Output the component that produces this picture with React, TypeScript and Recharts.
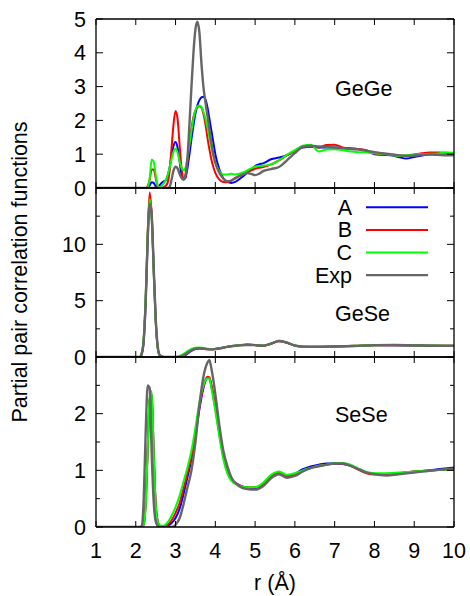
import React from 'react';
import { LineChart, Line, XAxis, YAxis } from 'recharts';

// ---------------- data ----------------
const seriesNames = ['A', 'B', 'C', 'Exp'];
const seriesColors = ['#0000ff', '#ff0000', '#00ff00', '#666666'];
const xTicks = [1, 2, 3, 4, 5, 6, 7, 8, 9, 10];

// GeGe panel
const geGeR = [1.0, 2.0, 2.25,
  2.3, 2.35, 2.4, 2.45, 2.5, 2.55, 2.6, 2.65, 2.7, 2.75,
  2.8, 2.85, 2.9, 2.95, 3.0, 3.05, 3.1, 3.15, 3.2, 3.25,
  3.3, 3.35, 3.4, 3.45, 3.5, 3.55, 3.6, 3.65, 3.7, 3.75,
  3.8, 3.85, 3.9, 3.95, 4.0,
  4.1, 4.2, 4.3, 4.4, 4.5, 4.6, 4.7, 4.8, 4.9, 5.0,
  5.1, 5.2,
  5.4, 5.6, 5.8, 6.0, 6.2, 6.4, 6.6, 6.8, 7.0, 7.2,
  7.4, 7.6, 7.8, 8.0, 8.2, 8.4, 8.6, 8.8, 9.0, 9.2,
  9.4, 9.6, 9.8, 10.0];
const geGeA = [0, 0, 0,
  0.01, 0.08, 0.17, 0.15, 0.05, 0.02, 0.08, 0.15, 0.2, 0.22,
  0.35, 0.6, 0.95, 1.25, 1.36, 1.2, 0.8, 0.4, 0.25, 0.3,
  0.6, 1.0, 1.45, 1.85, 2.2, 2.45, 2.6, 2.68, 2.7, 2.62,
  2.4, 2.05, 1.7, 1.35, 1.0,
  0.55, 0.28, 0.18, 0.15, 0.18, 0.26, 0.35, 0.45, 0.55, 0.65,
  0.7, 0.73,
  0.85, 0.9, 0.97, 1.1, 1.2, 1.22, 1.2, 1.2, 1.2, 1.18,
  1.17, 1.15, 1.1, 1.0, 0.98, 0.97, 0.92, 0.87, 0.92, 0.96,
  1.0, 1.02, 1.02, 1.0];
const geGeB = [0, 0, 0,
  0.05, 0.25, 0.55, 0.55, 0.3, 0.05, 0, 0, 0.02, 0.06,
  0.15, 0.5, 1.2, 1.9, 2.28, 2.05, 1.3, 0.6, 0.27, 0.35,
  0.8, 1.3, 1.75, 2.1, 2.3, 2.4, 2.42, 2.38, 2.2, 1.9,
  1.5, 1.15, 0.85, 0.62, 0.45,
  0.25, 0.18, 0.17, 0.22, 0.3, 0.35, 0.4, 0.46, 0.52, 0.57,
  0.6, 0.62,
  0.7, 0.82, 0.97, 1.1, 1.22, 1.22, 1.2, 1.27, 1.28, 1.2,
  1.17, 1.15, 1.12, 1.02, 1.0, 0.98, 0.95, 0.96, 0.99, 1.03,
  1.05, 1.05, 1.04, 1.02];
const geGeC = [0, 0, 0,
  0.02, 0.3, 0.84, 0.78, 0.4, 0.08, 0.03, 0.06, 0.14, 0.22,
  0.38, 0.6, 0.85, 1.08, 1.16, 1.05, 0.8, 0.6, 0.52, 0.6,
  0.9, 1.3, 1.7, 2.05, 2.3, 2.42, 2.44, 2.4, 2.25, 2.05,
  1.8, 1.5, 1.2, 0.95, 0.75,
  0.5, 0.4, 0.4, 0.42, 0.4, 0.42, 0.46, 0.52, 0.58, 0.63,
  0.65, 0.66,
  0.7, 0.82, 0.98, 1.12, 1.25, 1.28, 1.08, 1.14, 1.15, 1.12,
  1.08, 1.06, 1.05, 1.03, 1.01, 0.98, 0.95, 0.97, 0.99, 1.0,
  1.01, 1.02, 1.05, 1.04];
const geGeExp = [0, 0, 0,
  0, 0, 0, 0, 0, 0, 0, 0, 0, 0,
  0, 0.03, 0.25, 0.52, 0.63, 0.58, 0.42, 0.3, 0.25, 0.4,
  0.9, 1.9, 3.0, 4.0, 4.7, 4.92, 4.6, 3.7, 3.0, 2.55,
  2.15, 1.75, 1.35, 1.0, 0.75,
  0.45, 0.28, 0.2, 0.22, 0.28, 0.35, 0.4, 0.44, 0.42, 0.38,
  0.42, 0.5,
  0.56, 0.62, 0.82, 1.03, 1.22, 1.25, 1.23, 1.22, 1.2, 1.18,
  1.15, 1.14, 1.1, 1.06, 1.03, 1.0, 0.97, 0.95, 0.96, 0.98,
  0.99, 0.98, 0.97, 0.97];

// GeSe panel
const geSeR = [1.0, 2.0, 2.1,
  2.15, 2.2, 2.25, 2.3, 2.35, 2.4, 2.45, 2.5, 2.55, 2.6,
  2.7, 2.9,
  3.0, 3.1, 3.2, 3.3, 3.4, 3.5, 3.6, 3.7, 3.8, 3.9, 4.0,
  4.2, 4.4, 4.6, 4.8, 5.0, 5.2, 5.4, 5.6, 5.8, 6.0, 6.2,
  6.5,
  7.0, 7.5, 8.0, 8.5, 9.0, 9.5, 10.0];
const geSeA = [0, 0, 0,
  0.25, 1.4, 4.9, 10.4, 13.9, 12.7, 8.0, 3.4, 0.9, 0.15,
  0, 0,
  0, 0.01, 0.08, 0.3, 0.55, 0.7, 0.76, 0.74, 0.7, 0.69, 0.72,
  0.84, 0.97, 1.05, 1.1, 1.07, 1.0, 1.18, 1.42, 1.26, 1.0, 0.92,
  0.9,
  0.94, 0.98, 1.04, 1.05, 1.03, 0.99, 0.98];
const geSeB = [0, 0, 0,
  0.3, 1.6, 5.3, 11.0, 14.6, 12.6, 7.8, 3.3, 0.9, 0.15,
  0, 0,
  0, 0.03, 0.15, 0.38, 0.6, 0.73, 0.77, 0.74, 0.69, 0.68, 0.71,
  0.83, 0.96, 1.04, 1.08, 1.05, 1.0, 1.17, 1.4, 1.27, 1.01, 0.92,
  0.9,
  0.94, 0.99, 1.05, 1.05, 1.03, 1.0, 0.99];
const geSeC = [0, 0, 0,
  0.4, 1.8, 5.5, 11.0, 14.0, 12.3, 7.6, 3.2, 0.8, 0.12,
  0, 0,
  0.02, 0.08, 0.28, 0.52, 0.72, 0.82, 0.85, 0.8, 0.74, 0.71, 0.73,
  0.85, 0.97, 1.04, 1.08, 1.06, 1.01, 1.2, 1.44, 1.28, 1.02, 0.92,
  0.91,
  0.94, 0.99, 1.05, 1.06, 1.04, 1.01, 1.0];
const geSeExp = [0, 0, 0,
  0.3, 1.5, 5.0, 10.5, 13.6, 12.5, 8.0, 3.5, 1.0, 0.2,
  0, 0,
  0, 0.02, 0.15, 0.38, 0.6, 0.74, 0.78, 0.75, 0.7, 0.68, 0.7,
  0.82, 0.95, 1.03, 1.07, 1.05, 1.0, 1.18, 1.42, 1.28, 1.02, 0.92,
  0.9,
  0.93, 0.98, 1.05, 1.06, 1.03, 1.0, 1.0];

// SeSe panel
const seSeR = [1.0, 2.0, 2.1,
  2.15, 2.2, 2.25, 2.3, 2.35, 2.4, 2.45, 2.5, 2.55, 2.6,
  2.7, 2.8, 2.9,
  3.0, 3.1, 3.2, 3.3, 3.4, 3.5, 3.6, 3.7, 3.8,
  3.85,
  3.9, 4.0, 4.1, 4.2, 4.3, 4.4,
  4.6, 4.8, 5.0, 5.2, 5.4, 5.6, 5.8, 6.0, 6.2, 6.4,
  6.6, 6.8, 7.0, 7.2, 7.4, 7.6, 7.8, 8.0,
  8.3, 8.6, 9.0, 9.5, 10.0];
const seSeA = [0, 0, 0,
  0, 0.05, 0.45, 1.4, 2.25, 2.35, 1.3, 0.4, 0.1, 0.02,
  0, 0.02, 0.07,
  0.16, 0.32, 0.58, 0.88, 1.2, 1.6, 2.08, 2.45, 2.63,
  2.63,
  2.5, 2.12, 1.68, 1.28, 1.0, 0.85,
  0.74, 0.69, 0.68, 0.74, 0.9, 0.95, 0.9, 0.94, 1.02, 1.07,
  1.1, 1.12, 1.12, 1.11, 1.08, 1.02, 0.96, 0.94,
  0.93, 0.95, 0.98, 1.01, 1.05];
const seSeB = [0, 0, 0,
  0, 0.05, 0.45, 1.4, 2.25, 2.35, 1.3, 0.4, 0.1, 0.02,
  0.01, 0.04, 0.12,
  0.25, 0.42, 0.68, 0.95, 1.25, 1.65, 2.12, 2.48, 2.65,
  2.64,
  2.5, 2.1, 1.65, 1.25, 0.98, 0.84,
  0.74, 0.7, 0.7, 0.76, 0.9, 0.96, 0.9, 0.93, 0.99, 1.04,
  1.08, 1.1, 1.12, 1.12, 1.08, 1.01, 0.95, 0.93,
  0.93, 0.95, 0.98, 1.0, 1.02];
const seSeC = [0, 0, 0,
  0, 0.05, 0.4, 1.4, 2.3, 2.4, 1.3, 0.4, 0.1, 0.03,
  0.02, 0.08, 0.2,
  0.35, 0.55, 0.8, 1.05, 1.35, 1.75, 2.2, 2.5, 2.62,
  2.62,
  2.45, 2.05, 1.6, 1.2, 0.95, 0.82,
  0.73, 0.7, 0.7, 0.78, 0.92, 0.98, 0.92, 0.95, 1.0, 1.04,
  1.08, 1.1, 1.13, 1.13, 1.1, 1.03, 0.97, 0.95,
  0.95, 0.96, 0.98, 1.0, 1.02];
const seSeExp = [0, 0, 0,
  0.02, 0.5, 1.7, 2.5, 2.45, 1.3, 0.45, 0.1, 0.02, 0,
  0, 0, 0,
  0.04, 0.15, 0.4, 0.7, 1.0, 1.5, 2.15, 2.65, 2.9,
  2.95,
  2.8, 2.35, 1.8, 1.35, 1.08, 0.88,
  0.72, 0.67, 0.66, 0.72, 0.86, 0.93, 0.87, 0.9, 0.98, 1.04,
  1.07, 1.1, 1.12, 1.12, 1.08, 1.02, 0.96, 0.93,
  0.91, 0.93, 0.96, 1.0, 1.03];

const geGeYTicks = [0, 1, 2, 3, 4, 5];
const geGeYLabels = [0, 1, 2, 3, 4, 5];
const geSeYTicks = [0, 2.5, 5, 7.5, 10, 12.5, 15];
const geSeYLabels = [0, 5, 10];
const seSeYTicks = [0, 0.5, 1, 1.5, 2, 2.5, 3];
const seSeYLabels = [0, 1, 2];

const panelNames = ['GeGe', 'GeSe', 'SeSe'];

// ---------------- layout ----------------
const W = 470;
const H = 596;
const PLOT_LEFT = 96;
const PLOT_RIGHT = 454;
const AX = 10;
const FONT = '"Liberation Sans", Arial, Helvetica, sans-serif';
const FS = 21.5;

function buildRows(r: number[], cols: number[][]) {
  return r.map((rv, i) => {
    const row: any = { r: rv };
    seriesNames.forEach((n, k) => { row[n] = cols[k][i]; });
    return row;
  });
}

const panels = [
  { rows: buildRows(geGeR, [geGeA, geGeB, geGeC, geGeExp]), top: 19, bottom: 188, yMax: 5, yTicks: geGeYTicks, yLabels: geGeYLabels, name: panelNames[0], nameY: 95.5 },
  { rows: buildRows(geSeR, [geSeA, geSeB, geSeC, geSeExp]), top: 188, bottom: 357, yMax: 15, yTicks: geSeYTicks, yLabels: geSeYLabels, name: panelNames[1], nameY: 320.5 },
  { rows: buildRows(seSeR, [seSeA, seSeB, seSeC, seSeExp]), top: 357, bottom: 527, yMax: 3, yTicks: seSeYTicks, yLabels: seSeYLabels, name: panelNames[2], nameY: 421.5 },
];

const textStyle = { fontFamily: FONT, fontSize: FS, fill: '#000' } as const;

function Panel({ p, showX }: { p: any; showX: boolean }) {
  const leftTick = (props: any) => {
    const { x, y, payload } = props;
    const v = payload.value;
    const major = p.yLabels.includes(v);
    const len = major ? 7 : 4;
    return (
      <g>
        <line x1={x} y1={y} x2={x + len} y2={y} stroke="#000" strokeWidth={1} />
        {major ? (
          <text x={x - 10} y={y + 7.5} textAnchor="end" style={textStyle}>{String(v)}</text>
        ) : null}
      </g>
    );
  };
  const rightTick = (props: any) => {
    const { x, y, payload } = props;
    const major = p.yLabels.includes(payload.value);
    const len = major ? 7 : 4;
    return <line x1={x - len} y1={y} x2={x} y2={y} stroke="#000" strokeWidth={1} />;
  };
  const bottomTick = (props: any) => {
    const { x, y, payload } = props;
    return (
      <g>
        <line x1={x} y1={y - 6} x2={x} y2={y} stroke="#000" strokeWidth={1} />
        {showX ? (
          <text x={x} y={y + 30.5} textAnchor="middle" style={textStyle}>{String(payload.value)}</text>
        ) : null}
      </g>
    );
  };
  const topTick = (props: any) => {
    const { x, y } = props;
    return <line x1={x} y1={y} x2={x} y2={y + 6} stroke="#000" strokeWidth={1} />;
  };
  const axisLine = { stroke: '#000', strokeWidth: 1.3 };
  return (
    <div style={{ position: 'absolute', left: 0, top: 0 }}>
      <LineChart
        width={W}
        height={H}
        data={p.rows}
        margin={{ top: p.top - AX, bottom: H - p.bottom - AX, left: PLOT_LEFT - AX, right: W - PLOT_RIGHT - AX }}
      >
        <XAxis xAxisId="b" dataKey="r" type="number" domain={[1, 10]} ticks={xTicks} interval={0}
          height={AX} tickSize={0} tickMargin={0} tickLine={false} axisLine={axisLine} tick={bottomTick} allowDataOverflow />
        <XAxis xAxisId="t" orientation="top" dataKey="r" type="number" domain={[1, 10]} ticks={xTicks} interval={0}
          height={AX} tickSize={0} tickMargin={0} tickLine={false} axisLine={axisLine} tick={topTick} allowDataOverflow />
        <YAxis yAxisId="l" type="number" domain={[0, p.yMax]} ticks={p.yTicks} interval={0}
          width={AX} tickSize={0} tickMargin={0} tickLine={false} axisLine={axisLine} tick={leftTick} allowDataOverflow />
        <YAxis yAxisId="r" orientation="right" type="number" domain={[0, p.yMax]} ticks={p.yTicks} interval={0}
          width={AX} tickSize={0} tickMargin={0} tickLine={false} axisLine={axisLine} tick={rightTick} allowDataOverflow />
        {seriesNames.map((n, k) => (
          <Line key={n} xAxisId="b" yAxisId="l" dataKey={n} type="monotone" stroke={seriesColors[k]}
            strokeWidth={n === 'Exp' ? 2.4 : 2} dot={false} activeDot={false} isAnimationActive={false} />
        ))}
      </LineChart>
    </div>
  );
}

export default function App() {
  const legendTop = 207.3;
  const legendStep = 22.6;
  return (
    <div style={{ position: 'absolute', left: 0, top: 0, width: W, height: H, background: '#fff' }}>
      {panels.map((p, i) => (
        <Panel key={i} p={p} showX={i === panels.length - 1} />
      ))}
      <svg width={W} height={H} style={{ position: 'absolute', left: 0, top: 0 }}>
        <text transform="translate(27,272) rotate(-90)" textAnchor="middle" style={textStyle}>
          Partial pair correlation functions
        </text>
        <text x={275} y={590} textAnchor="middle" style={textStyle}>r (Å)</text>
        {panels.map((p, i) => (
          <text key={i} x={335} y={p.nameY} textAnchor="start" style={textStyle}>{p.name}</text>
        ))}
        {seriesNames.map((n, k) => {
          const ly = legendTop + k * legendStep;
          return (
            <g key={n}>
              <text x={352} y={ly + 7.5} textAnchor="end" style={textStyle}>{n}</text>
              <line x1={366} y1={ly} x2={428} y2={ly} stroke={seriesColors[k]} strokeWidth={n === 'Exp' ? 2.4 : 2} />
            </g>
          );
        })}
      </svg>
    </div>
  );
}
